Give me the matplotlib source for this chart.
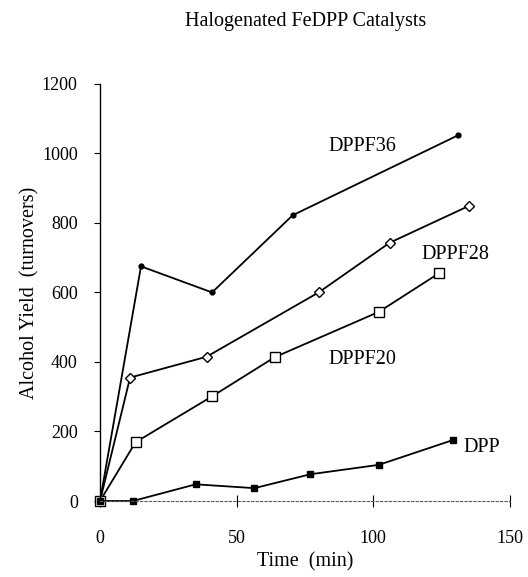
import matplotlib.pyplot as plt

plt.rcParams["font.family"] = ["Liberation Serif", "DejaVu Serif"]

# time (min) and alcohol yield (turnovers) per catalyst
t_dppf36 = [0, 15, 41, 70.5, 131]
y_dppf36 = [0, 675, 600, 822, 1052]

t_dppf28 = [0, 11, 39, 80, 106, 135]
y_dppf28 = [0, 355, 415, 600, 743, 849]

t_dppf20 = [0, 13, 41, 64, 102, 124]
y_dppf20 = [0, 169, 301, 414, 544, 655]

t_dpp = [0, 12, 35, 56.5, 77, 102, 129]
y_dpp = [0, 0, 48, 37, 77, 104, 175]

x_ticks = [0, 50, 100, 150]
y_ticks = [0, 200, 400, 600, 800, 1000, 1200]

fig = plt.figure(figsize=(5.28, 5.77), dpi=100)
ax = fig.add_axes([0.1894, 0.1317, 0.7765, 0.7230])

line_kw = dict(color="black", linewidth=1.3, clip_on=False)
ax.plot(t_dppf36, y_dppf36, marker="o", markersize=3.5, markerfacecolor="black", **line_kw)
ax.plot(t_dppf28, y_dppf28, marker="D", markersize=5, markerfacecolor="white",
        markeredgewidth=1.0, **line_kw)
ax.plot(t_dppf20, y_dppf20, marker="s", markersize=6.5, markerfacecolor="white",
        markeredgewidth=1.0, **line_kw)
ax.plot(t_dpp, y_dpp, marker="s", markersize=4, markerfacecolor="black", **line_kw)

# series labels
lab_kw = dict(fontsize=14.5, ha="center", va="center")
ax.text(96, 1020, "DPPF36", **lab_kw)
ax.text(130, 710, "DPPF28", **lab_kw)
ax.text(96, 406, "DPPF20", **lab_kw)
ax.text(139.5, 154, "DPP", **lab_kw)

ax.set_xlim(0, 150)
ax.set_ylim(0, 1200)
ax.set_xticks(x_ticks)
ax.set_yticks(y_ticks)
ax.tick_params(axis="y", direction="out", length=4, width=0.8, labelsize=13, pad=12)
ax.tick_params(axis="x", direction="inout", length=8, width=0.8, labelsize=13, pad=17)

for side in ("top", "right"):
    ax.spines[side].set_visible(False)
ax.spines["left"].set_linewidth(1.0)
ax.spines["bottom"].set_linewidth(0.8)
ax.spines["bottom"].set_linestyle((0, (2, 2)))
ax.spines["bottom"].set_color("0.35")

ax.set_xlabel("Time  (min)", fontsize=14.5, labelpad=4)
ax.set_ylabel("Alcohol Yield  (turnovers)", fontsize=14.5, labelpad=2)
fig.text(0.578, 0.962, "Halogenated FeDPP Catalysts", fontsize=14.5, ha="center", va="center")

fig.savefig("out.png", dpi=100)
